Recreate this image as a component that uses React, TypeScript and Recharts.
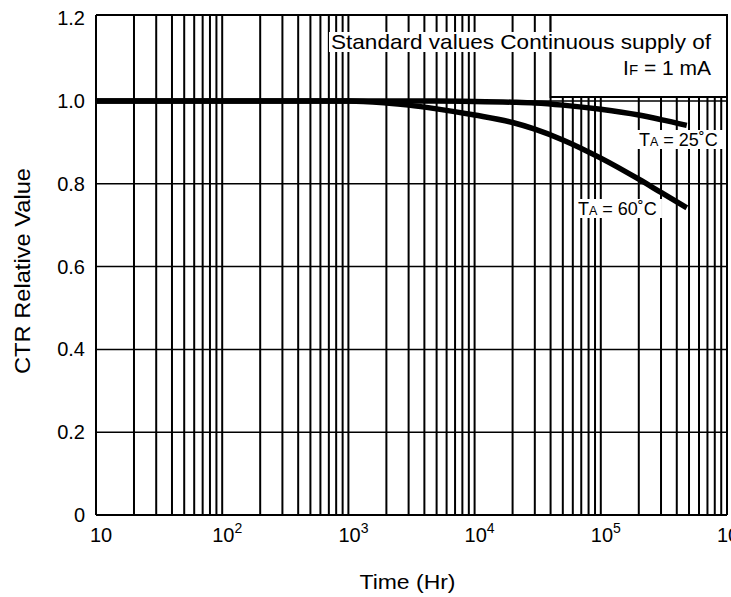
import {
  LineChart,
  Line,
  XAxis,
  YAxis,
  CartesianGrid,
  ReferenceLine,
  ReferenceArea,
  ReferenceDot,
  Label,
} from 'recharts'

const FONT = '"Liberation Sans", Arial, Helvetica, sans-serif'

// time in hours (log axis) and relative CTR for both ambient temperatures
const TIME_HR = [10, 100, 1000, 2000, 3000, 5000, 10000, 20000, 30000, 50000, 100000, 200000, 300000, 480000]
const CTR_TA_25 = [1.0, 1.0, 1.0, 1.0, 1.0, 1.0, 0.999, 0.997, 0.995, 0.99, 0.98, 0.966, 0.955, 0.941]
const CTR_TA_60 = [1.0, 1.0, 1.0, 0.995, 0.99, 0.981, 0.966, 0.948, 0.932, 0.906, 0.862, 0.811, 0.779, 0.742]

const X_DECADES = [10, 100, 1000, 10000, 100000, 1000000]
const X_MINOR_STEPS = [2, 3, 4, 5, 6, 7, 8, 9]
const Y_TICKS = [0, 0.2, 0.4, 0.6, 0.8, 1.0, 1.2]
const Y_GRID = [0.2, 0.4, 0.6, 0.8, 1.0]
const Y_MAX = 1.2077 // frame top sits a little above the 1.2 tick

const chartData = TIME_HR.map((t, i) => ({ t, ta25: CTR_TA_25[i], ta60: CTR_TA_60[i] }))

const verticalGrid = [
  ...X_DECADES.slice(1, -1),
  ...X_DECADES.slice(0, -1).flatMap((d) => X_MINOR_STEPS.map((s) => d * s)),
]

function TimeTick({ x, y, payload }: any) {
  const exp = Math.round(Math.log10(payload.value))
  return (
    <text x={x + 5} y={y} dy={14} textAnchor="middle" fontSize={20} fill="#000" fontFamily={FONT}>
      10
      {exp > 1 && (
        <tspan dy={-9} fontSize={14}>
          {exp}
        </tspan>
      )}
    </text>
  )
}

function SupplyNote({ viewBox }: any) {
  const right = viewBox.x + viewBox.width - 16
  const top = viewBox.y
  return (
    <g fontFamily={FONT} fill="#000">
      <rect x={right - 382} y={top + 17} width={387} height={20} fill="#fff" />
      <text
        x={right}
        y={top + 34}
        textAnchor="end"
        fontSize={21}
        fill="#000"
        textLength={380}
        lengthAdjust="spacingAndGlyphs"
      >
        Standard values Continuous supply of
      </text>
      <text x={right} y={top + 60} textAnchor="end" fontSize={21} fill="#000">
        I<tspan fontSize={15}>F</tspan>
        {' = 1 mA'}
      </text>
    </g>
  )
}

function tempLabel(temp: string) {
  return ({ viewBox }: any) => {
    const x = viewBox.x + viewBox.width / 2
    const y = viewBox.y + viewBox.height / 2
    return (
      <g fontFamily={FONT}>
        <rect x={x - 3} y={y - 16} width={87} height={19} fill="#fff" />
        <text x={x} y={y} fontSize={18} fill="#000">
          T<tspan fontSize={12.5}>A</tspan>
          {` = ${temp}˚C`}
        </text>
      </g>
    )
  }
}

export default function App() {
  return (
    <div style={{ position: 'absolute', left: 0, top: 0, width: 731, height: 597, background: '#fff' }}>
      <LineChart
        width={731}
        height={597}
        data={chartData}
        margin={{ top: 15, right: 4, bottom: 42, left: 16 }}
      >
        <CartesianGrid
          horizontal={false}
          verticalValues={verticalGrid}
          stroke="#000"
          strokeWidth={2}
        />
        <CartesianGrid
          vertical={false}
          horizontalValues={Y_GRID}
          stroke="#000"
          strokeWidth={1.5}
        />
        <XAxis
          dataKey="t"
          type="number"
          scale="log"
          domain={[10, 1000000]}
          ticks={X_DECADES}
          interval={0}
          allowDataOverflow
          height={40}
          tickLine={false}
          tickSize={0}
          tickMargin={13}
          axisLine={{ stroke: '#000', strokeWidth: 2 }}
          tick={<TimeTick />}
        >
          <Label
            content={({ viewBox }: any) => (
              <text
                x={viewBox.x + viewBox.width / 2 - 4}
                y={viewBox.y + viewBox.height + 34}
                textAnchor="middle"
                fontSize={21}
                fill="#000"
                fontFamily={FONT}
                textLength={96}
                lengthAdjust="spacingAndGlyphs"
              >
                Time (Hr)
              </text>
            )}
          />
        </XAxis>
        <YAxis
          type="number"
          domain={[0, Y_MAX]}
          ticks={Y_TICKS}
          interval={0}
          width={80}
          tickLine={false}
          tickSize={0}
          tickMargin={11}
          axisLine={{ stroke: '#000', strokeWidth: 2 }}
          tickFormatter={(v: number) => (v === 0 ? '0' : v.toFixed(1))}
          tick={{ fontSize: 20, fill: '#000', fontFamily: FONT }}
        >
          <Label
            content={({ viewBox }: any) => {
              const cx = viewBox.x + 14
              const cy = viewBox.y + viewBox.height / 2 + 6
              return (
                <text
                  x={cx}
                  y={cy}
                  transform={`rotate(-90 ${cx} ${cy})`}
                  textAnchor="middle"
                  fontSize={22}
                  fill="#000"
                  fontFamily={FONT}
                  textLength={206}
                  lengthAdjust="spacingAndGlyphs"
                >
                  CTR Relative Value
                </text>
              )
            }}
          />
        </YAxis>

        <ReferenceArea
          x1={40000}
          x2={1000000}
          y1={1.0097}
          y2={Y_MAX}
          fill="#fff"
          fillOpacity={1}
          stroke="#000"
          strokeWidth={2}
          label={<SupplyNote />}
        />
        <ReferenceLine y={Y_MAX} stroke="#000" strokeWidth={2} />
        <ReferenceLine x={1000000} stroke="#000" strokeWidth={2} />

        <Line
          type="monotone"
          dataKey="ta25"
          stroke="#000"
          strokeWidth={5.5}
          dot={false}
          isAnimationActive={false}
        />
        <Line
          type="monotone"
          dataKey="ta60"
          stroke="#000"
          strokeWidth={5.5}
          dot={false}
          isAnimationActive={false}
        />

        <ReferenceDot x={200700} y={0.8913} r={0} fill="none" stroke="none" label={{ content: tempLabel('25') }} />
        <ReferenceDot x={65900} y={0.7246} r={0} fill="none" stroke="none" label={{ content: tempLabel('60') }} />
      </LineChart>
    </div>
  )
}
